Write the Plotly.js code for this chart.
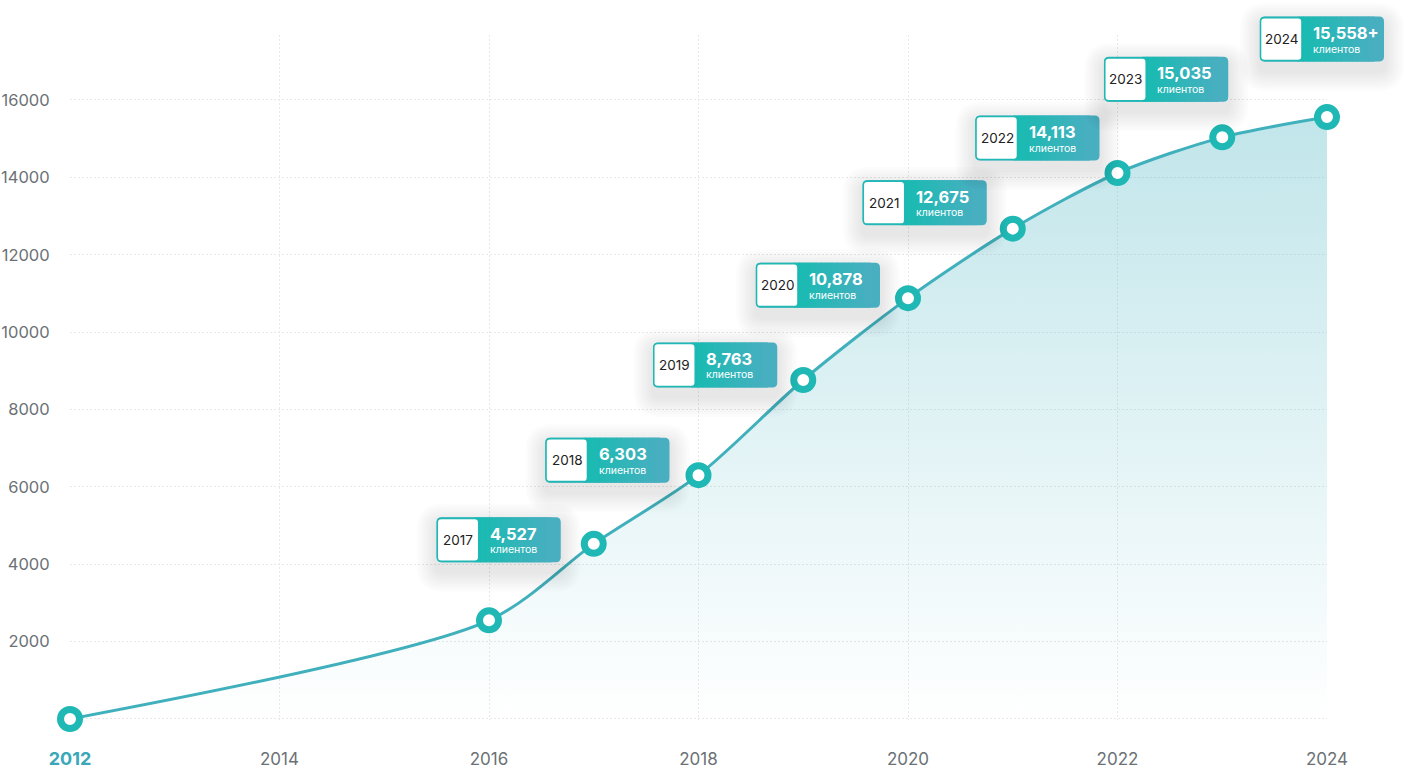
<!DOCTYPE html>
<html>
<head>
<meta charset="utf-8">
<script src="https://cdn.plot.ly/plotly-3.0.1.min.js"></script>
<style>
  html, body { margin: 0; padding: 0; background: #fff; }
  #myPlot { width: 1414px; height: 773px; }
</style>
</head>
<body>
<div id="myPlot"></div>
<script>
var years = [2012, 2016, 2017, 2018, 2019, 2020, 2021, 2022, 2023, 2024];
var clients = [0, 2550, 4527, 6303, 8763, 10878, 12675, 14113, 15035, 15558];

var labelYears = [2017, 2018, 2019, 2020, 2021, 2022, 2023, 2024];
var labelValues = ["4,527", "6,303", "8,763", "10,878", "12,675", "14,113", "15,035", "15,558+"];
var labelUnit = "клиентов";

var xTicks = [2012, 2014, 2016, 2018, 2020, 2022, 2024];
var yTicks = [0, 2000, 4000, 6000, 8000, 10000, 12000, 14000, 16000];

// label placement, pixels from each point: split between year box and value box, box centre
var labelDx = [-114, -110, -107, -109, -107, -99, -75, -24];
var labelDy = [4, 15, 15, 13, 26, 35, 58, 78];

var xRange = [2012, 2024];
var yRange = [-26, 17680];

var teal = "#1fb8b4";
var font = "Inter, 'Noto Sans', sans-serif";

function roundRect(x0, y0, x1, y1, r) {
  return "M" + (x0 + r) + "," + y0 + " L" + (x1 - r) + "," + y0 +
    " Q" + x1 + "," + y0 + " " + x1 + "," + (y0 + r) +
    " L" + x1 + "," + (y1 - r) +
    " Q" + x1 + "," + y1 + " " + (x1 - r) + "," + y1 +
    " L" + (x0 + r) + "," + y1 +
    " Q" + x0 + "," + y1 + " " + x0 + "," + (y1 - r) +
    " L" + x0 + "," + (y0 + r) +
    " Q" + x0 + "," + y0 + " " + (x0 + r) + "," + y0 + " Z";
}

function mix(a, b, t) {
  var c = a.map(function (v, i) { return Math.round(v + (b[i] - v) * t); });
  return "rgb(" + c.join(",") + ")";
}

var data = [{
  x: years,
  y: clients,
  mode: "lines+markers",
  line: {shape: "spline", smoothing: 0.8, color: "#40b0bc", width: 3},
  marker: {size: 19, color: "#ffffff", line: {color: teal, width: 7}},
  fill: "tozeroy",
  fillgradient: {
    type: "vertical",
    colorscale: [[0, "rgba(60,175,190,0)"], [1, "rgba(60,175,190,0.32)"]]
  },
  cliponaxis: false,
  hoverinfo: "x+y"
}];

var shapes = [];
var annotations = [];

labelYears.forEach(function (yr, i) {
  var v = clients[years.indexOf(yr)];
  var dx = labelDx[i], dy = labelDy[i];
  // paper-anchored so the boxes are not clipped by the plot area
  var base = {type: "path", xref: "paper", yref: "paper", xsizemode: "pixel", ysizemode: "pixel",
              xanchor: (yr - xRange[0]) / (xRange[1] - xRange[0]),
              yanchor: (v - yRange[0]) / (yRange[1] - yRange[0]), layer: "above"};
  // soft shadow
  for (var k = 1; k <= 8; k++) {
    var e = k * 2.5;
    shapes.push(Object.assign({}, base, {
      path: roundRect(dx - 43 - e, dy - 22 - 10 - e, dx + 81 + e, dy + 22 - 6 + e, 6 + e),
      fillcolor: "rgba(0,0,0,0.01)", line: {width: 0}
    }));
  }
  shapes.push(Object.assign({}, base, {
    path: roundRect(dx - 43, dy - 22.5, dx + 81, dy + 22.5, 5),
    fillcolor: "#47afc0", line: {width: 0}
  }));
  // left-to-right gradient of the value box
  var n = 14, w = 76 / n;
  for (var s = 0; s < n; s++) {
    shapes.push(Object.assign({}, base, {
      path: "M" + (dx - 5 + s * w) + "," + (dy - 22.5) + " L" + (dx - 5 + (s + 1) * w + 0.6) + "," + (dy - 22.5) +
            " L" + (dx - 5 + (s + 1) * w + 0.6) + "," + (dy + 22.5) + " L" + (dx - 5 + s * w) + "," + (dy + 22.5) + " Z",
      fillcolor: mix([23, 187, 177], [71, 175, 192], s / (n - 1)), line: {width: 0}
    }));
  }
  shapes.push(Object.assign({}, base, {
    path: roundRect(dx - 42.5, dy - 21.5, dx - 1, dy + 21.5, 4),
    fillcolor: "#ffffff", line: {color: teal, width: 1.6}
  }));
  annotations.push({
    x: yr, y: v, xref: "x", yref: "y", showarrow: false,
    xanchor: "center", yanchor: "middle", xshift: dx - 21.5, yshift: dy,
    text: String(yr), font: {family: font, size: 13.5, color: "#222222"}
  });
  annotations.push({
    x: yr, y: v, xref: "x", yref: "y", showarrow: false,
    xanchor: "left", yanchor: "middle", xshift: dx + 8, yshift: dy + 6,
    text: "<b>" + labelValues[i] + "</b>", font: {family: font, size: 16.5, color: "#ffffff"}
  });
  annotations.push({
    x: yr, y: v, xref: "x", yref: "y", showarrow: false,
    xanchor: "left", yanchor: "middle", xshift: dx + 8, yshift: dy - 10,
    text: labelUnit, font: {family: font, size: 10.5, color: "#ffffff"}
  });
});

var layout = {
  width: 1414,
  height: 773,
  margin: {l: 70, r: 87, t: 35, b: 53},
  paper_bgcolor: "#ffffff",
  plot_bgcolor: "#ffffff",
  showlegend: false,
  font: {family: font},
  xaxis: {
    range: xRange,
    tickvals: xTicks,
    ticktext: xTicks.map(function (t, i) {
      return i === 0 ? "<b><span style='color:#3aa8b8;font-size:18px'>" + t + "</span></b>" : String(t);
    }),
    ticks: "outside", ticklen: 24, tickcolor: "rgba(0,0,0,0)",
    tickfont: {size: 17, color: "#6b7175"},
    showgrid: true, gridcolor: "#e8e8e8", griddash: "2px,2px", gridwidth: 1,
    zeroline: false, showline: false
  },
  yaxis: {
    range: yRange,
    tickvals: yTicks,
    ticktext: yTicks.map(function (t) { return t === 0 ? "" : String(t); }),
    ticks: "outside", ticklen: 16, tickcolor: "rgba(0,0,0,0)",
    tickfont: {size: 16.5, color: "#6b7175"},
    showgrid: true, gridcolor: "#e8e8e8", griddash: "2px,2px", gridwidth: 1,
    zeroline: false, showline: false
  },
  shapes: shapes,
  annotations: annotations
};

Plotly.newPlot("myPlot", data, layout, {displayModeBar: false, staticPlot: true});
</script>
</body>
</html>
